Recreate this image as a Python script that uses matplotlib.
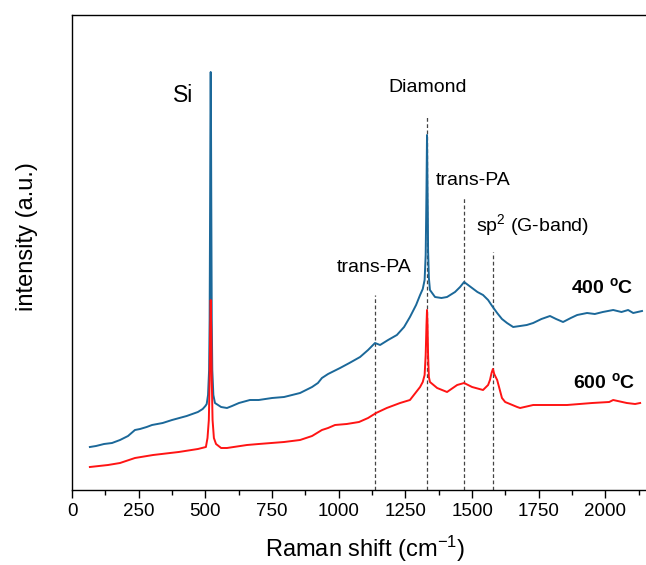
import matplotlib
matplotlib.use("Agg")
import matplotlib.pyplot as plt
from matplotlib.ticker import MultipleLocator

plt.rcParams['font.family'] = ['Liberation Sans', 'DejaVu Sans']
plt.rcParams['mathtext.fontset'] = 'custom'
plt.rcParams['mathtext.rm'] = 'Liberation Sans'
plt.rcParams['mathtext.it'] = 'Liberation Sans:italic'
plt.rcParams['mathtext.bf'] = 'Liberation Sans:bold'

# ---- data (intensity in arbitrary units) ----
w400 = [67, 90, 120, 150, 180, 210, 236, 255, 280, 300, 340, 375, 430, 472, 490, 500, 505, 510,
        514, 516, 518, 519, 520, 521, 522, 524, 526, 530, 536, 559, 581, 600, 626, 667, 700,
        750, 795, 855, 900, 922, 937, 960, 1005, 1040, 1080, 1110, 1136, 1155, 1185, 1218,
        1245, 1267, 1290, 1305, 1315, 1322, 1326, 1328, 1329, 1331, 1333, 1334, 1335, 1338,
        1342, 1361, 1385, 1406, 1436, 1455, 1470, 1485, 1500, 1520, 1541, 1560, 1575, 1594,
        1612, 1631, 1654, 1680, 1705, 1729, 1760, 1792, 1815, 1841, 1870, 1894, 1931, 1960,
        1990, 2029, 2060, 2085, 2104, 2137]
i400 = [43, 44, 46, 47, 50, 54, 60, 61, 63, 65, 67, 70, 74, 78, 81, 84, 86, 95,
        120, 170, 300, 380, 418, 380, 300, 170, 120, 95, 87, 83, 82, 84, 87, 90, 90,
        92, 93, 97, 103, 107, 112, 116, 122, 127, 133, 140, 147, 145, 150, 155,
        163, 173, 185, 195, 201, 210, 235, 277, 300, 355, 300, 277, 240, 212,
        200, 193, 192, 193, 198, 203, 208, 205, 202, 198, 195, 190, 184, 177,
        171, 167, 163, 164, 165, 167, 171, 174, 171, 168, 172, 175, 177, 176,
        178, 180, 178, 180, 177, 179]

w600 = [67, 135, 180, 236, 304, 400, 472, 502, 508, 513, 516, 518, 520, 522, 524, 527, 532,
        540, 559, 581, 656, 700, 795, 855, 900, 937, 960, 986, 1030, 1076, 1110, 1140, 1180,
        1230, 1267, 1305, 1315, 1322, 1326, 1329, 1331, 1333, 1335, 1338, 1342, 1369, 1406,
        1444, 1470, 1500, 1541, 1560, 1567, 1573, 1578, 1583, 1594, 1612, 1624, 1669, 1680,
        1729, 1777, 1856, 1950, 2014, 2029, 2080, 2111, 2130]
i600 = [23, 25, 27, 32, 35, 38, 41, 43, 52, 70, 110, 160, 190, 160, 110, 70, 52,
        46, 42, 42, 45, 46, 48, 50, 54, 60, 62, 65, 66, 68, 72, 77, 82,
        87, 90, 103, 108, 115, 135, 165, 180, 165, 135, 113, 108, 102, 98,
        105, 107, 103, 100, 105, 110, 117, 121, 116, 110, 92, 88, 83, 82,
        85, 85, 85, 87, 88, 90, 87, 86, 87]

marker_pos = [1135, 1332, 1470, 1578]      # dashed guide lines (cm^-1)
marker_top = [195, 375, 292, 238]

labels = ["Si", "Diamond", "trans-PA", "trans-PA", "sp$^2$ (G-band)"]
series_labels = ["400 $^{\\mathbf{o}}$C", "600 $^{\\mathbf{o}}$C"]

blue = '#1b6899'
red = '#ff1414'

fig = plt.figure(figsize=(6.46, 5.65), dpi=100)
ax = fig.add_axes([72 / 646, 1 - 490 / 565, 1 - 72 / 646, 475 / 565])

for xp, yt in zip(marker_pos, marker_top):
    ax.plot([xp, xp], [0, yt], color='#444444', lw=0.9, ls=(0, (3, 2)), zorder=1)

ax.plot(w400, i400, color=blue, lw=1.4, zorder=2)
ax.plot(w600, i600, color=red, lw=1.4, zorder=3)

ax.set_xlim(0, 2152)
ax.set_ylim(0, 475)

ax.spines['right'].set_visible(False)
for s in ['top', 'left', 'bottom']:
    ax.spines[s].set_linewidth(1.0)
ax.set_yticks([])
ax.xaxis.set_major_locator(MultipleLocator(250))
ax.xaxis.set_minor_locator(MultipleLocator(125))
ax.tick_params(axis='x', which='major', direction='out', length=6, width=1.0,
               labelsize=13.5, pad=3)
ax.tick_params(axis='x', which='minor', direction='out', length=3.5, width=1.0)

ax.set_xlabel("Raman shift (cm$^{-1}$)", fontsize=17)
ax.xaxis.set_label_coords((365 - 72) / 574, (490 - 549) / 475)
ax.xaxis.label.set_verticalalignment('center')
ax.set_ylabel("intensity (a.u.)", fontsize=17)
ax.yaxis.set_label_coords((27 - 72) / 574, (490 - 237) / 475)
ax.yaxis.label.set_verticalalignment('center')

ax.text(416, 388, labels[0], fontsize=16.5, ha='center', va='baseline')
ax.text(1335, 398, labels[1], fontsize=14, ha='center', va='baseline')
ax.text(1504, 305, labels[2], fontsize=14, ha='center', va='baseline')
ax.text(1132, 218, labels[3], fontsize=14, ha='center', va='baseline')
ax.text(1515, 259, labels[4], fontsize=14, ha='left', va='baseline')
ax.text(2104, 197, series_labels[0], fontsize=14, fontweight='bold', ha='right', va='baseline')
ax.text(2111, 102, series_labels[1], fontsize=14, fontweight='bold', ha='right', va='baseline')

fig.savefig("out.png", dpi=100)
